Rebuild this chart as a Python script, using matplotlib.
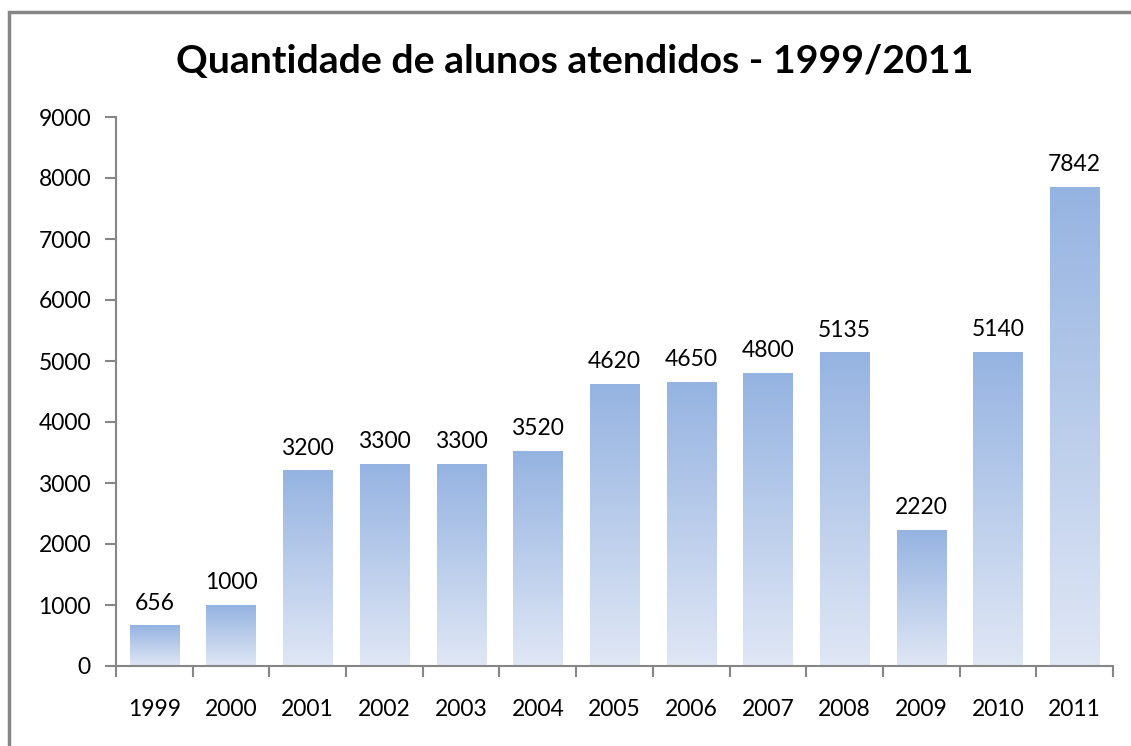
""" Bar chart of students attended per year """

import numpy as np
import matplotlib
matplotlib.use('Agg')
import matplotlib.pyplot as plt
from matplotlib.colors import LinearSegmentedColormap
from matplotlib.patches import Rectangle

years = ['1999', '2000', '2001', '2002', '2003', '2004', '2005',
         '2006', '2007', '2008', '2009', '2010', '2011']
alunos = [656, 1000, 3200, 3300, 3300, 3520, 4620,
          4650, 4800, 5135, 2220, 5140, 7842]
y_ticks = [0, 1000, 2000, 3000, 4000, 5000, 6000, 7000, 8000, 9000]

plt.rcParams['font.family'] = ['Lato', 'DejaVu Sans']

W, H = 1131, 746
fig = plt.figure(figsize=(W / 100, H / 100), dpi=100)
ax = fig.add_axes([116 / W, 1 - 666 / H, (1113 - 116) / W, (666 - 117) / H])

# Outer chart border (cut at right and bottom like the original)
fig.patches.append(Rectangle((9 / W, -0.1), 1.2, 1 - 12 / H + 0.1,
                             transform=fig.transFigure, fill=False,
                             edgecolor='#868686', linewidth=2.5))

x = np.arange(len(years))
bar_width = 0.64
bars = ax.bar(x, alunos, width=bar_width, color='none', edgecolor='none')

# Gradient fill per bar: darker blue at top, pale at the bottom
cmap = LinearSegmentedColormap.from_list('grad', ['#E0E7F5', '#95B3E1'])
grad = np.linspace(0, 1, 256).reshape(-1, 1)
for b in bars:
    x0 = b.get_x()
    h = b.get_height()
    ax.imshow(grad, extent=[x0, x0 + bar_width, 0, h], origin='lower',
              aspect='auto', cmap=cmap, zorder=2)

for xi, v in zip(x, alunos):
    ax.text(xi, v + 200, str(v), ha='center', va='bottom', fontsize=16.5)

ax.set_xlim(-0.5, len(years) - 0.5)
ax.set_ylim(0, 9000)
ax.set_yticks(y_ticks)
ax.set_yticklabels([str(t) for t in y_ticks], fontsize=16.5)

ax.set_xticks(x)
ax.set_xticklabels(years, fontsize=16.5)
ax.set_xticks(np.arange(len(years) + 1) - 0.5, minor=True)
ax.tick_params(axis='x', which='major', length=0, pad=24)
ax.tick_params(axis='x', which='minor', length=8, width=1.5, color='#868686')
ax.tick_params(axis='y', length=8, width=1.5, color='#868686', pad=10)

for side in ['top', 'right']:
    ax.spines[side].set_visible(False)
for side in ['left', 'bottom']:
    ax.spines[side].set_color('#868686')
    ax.spines[side].set_linewidth(1.5)

fig.text(575 / W, 1 - 61 / H, 'Quantidade de alunos atendidos - 1999/2011',
         ha='center', va='center', fontsize=28.3, fontweight='bold')

fig.savefig('out.png', dpi=100)
